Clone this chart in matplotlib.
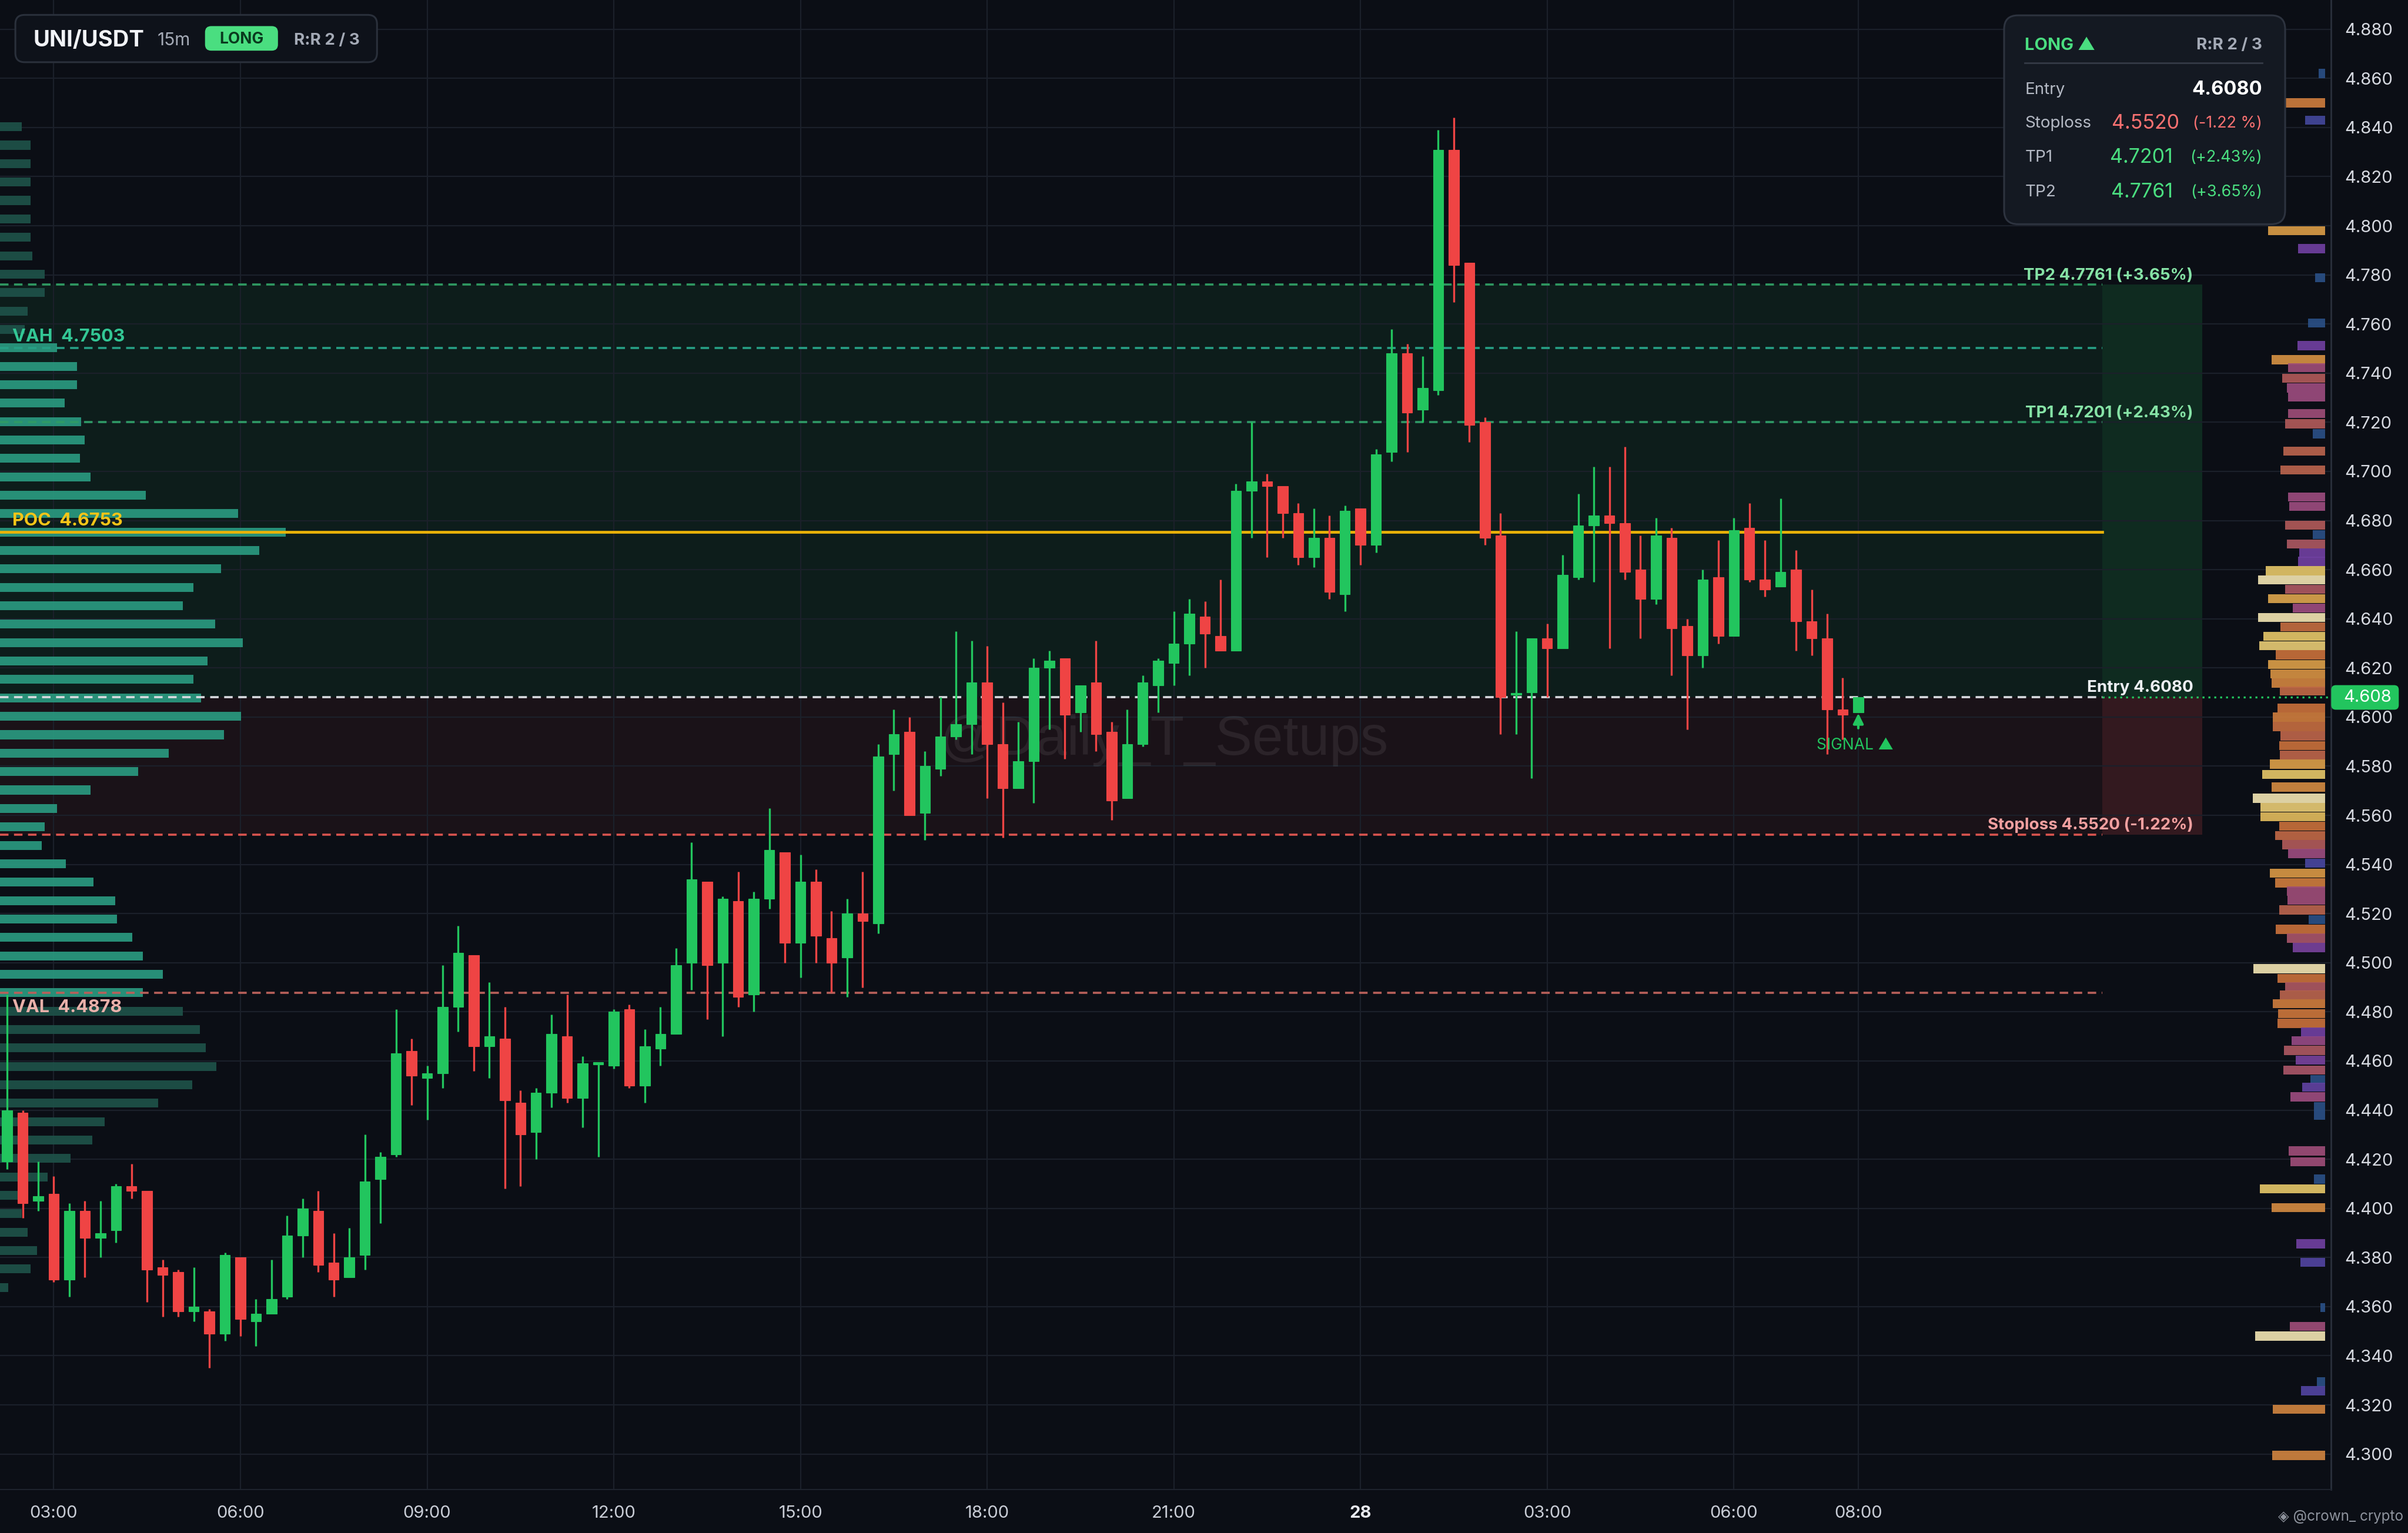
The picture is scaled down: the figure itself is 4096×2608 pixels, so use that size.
import matplotlib
matplotlib.use("Agg")
import matplotlib.pyplot as plt
import matplotlib.transforms as mtransforms
from matplotlib.patches import Rectangle, FancyBboxPatch
from matplotlib.colors import LinearSegmentedColormap
import numpy as np

plt.rcParams['font.family'] = ['Inter', 'DejaVu Sans']

# ---------------- data ----------------
symbol = "UNI/USDT"
timeframe = "15m"
first_candle_offset = -3   # first bar is 02:15, three bars before 03:00

opens = [4.419, 4.439, 4.403, 4.406, 4.371, 4.399, 4.388, 4.391, 4.409, 4.407,
         4.376, 4.374, 4.358, 4.358, 4.349, 4.380, 4.354, 4.357, 4.364, 4.389,
         4.399, 4.378, 4.372, 4.381, 4.412, 4.422, 4.464, 4.453, 4.455, 4.482,
         4.503, 4.466, 4.469, 4.443, 4.431, 4.447, 4.470, 4.445, 4.4585, 4.458,
         4.481, 4.450, 4.465, 4.471, 4.500, 4.533, 4.500, 4.525, 4.487, 4.526,
         4.545, 4.508, 4.533, 4.510, 4.502, 4.520, 4.516, 4.585, 4.594, 4.561,
         4.579, 4.592, 4.597, 4.614, 4.589, 4.571, 4.582, 4.620, 4.624, 4.602,
         4.614, 4.594, 4.567, 4.589, 4.613, 4.622, 4.630, 4.641, 4.633, 4.627,
         4.692, 4.696, 4.694, 4.683, 4.665, 4.673, 4.650, 4.685, 4.670, 4.708,
         4.748, 4.725, 4.733, 4.831, 4.785, 4.720, 4.674, 4.609, 4.610, 4.632,
         4.628, 4.657, 4.678, 4.682, 4.679, 4.660, 4.648, 4.673, 4.637, 4.625,
         4.657, 4.633, 4.677, 4.656, 4.653, 4.660, 4.639, 4.632, 4.603, 4.602]
highs = [4.487, 4.440, 4.419, 4.413, 4.402, 4.403, 4.403, 4.410, 4.418, 4.407,
         4.379, 4.375, 4.376, 4.359, 4.382, 4.380, 4.363, 4.379, 4.397, 4.404,
         4.407, 4.390, 4.392, 4.430, 4.423, 4.481, 4.469, 4.458, 4.499, 4.515,
         4.503, 4.492, 4.482, 4.448, 4.449, 4.479, 4.487, 4.462, 4.459, 4.481,
         4.483, 4.473, 4.482, 4.506, 4.549, 4.533, 4.527, 4.537, 4.529, 4.563,
         4.545, 4.544, 4.538, 4.521, 4.526, 4.537, 4.589, 4.603, 4.600, 4.586,
         4.608, 4.635, 4.631, 4.629, 4.606, 4.598, 4.624, 4.627, 4.624, 4.613,
         4.631, 4.598, 4.603, 4.617, 4.624, 4.643, 4.648, 4.647, 4.656, 4.695,
         4.720, 4.699, 4.694, 4.687, 4.685, 4.682, 4.686, 4.685, 4.709, 4.758,
         4.752, 4.747, 4.839, 4.844, 4.785, 4.722, 4.683, 4.635, 4.632, 4.638,
         4.666, 4.691, 4.702, 4.702, 4.710, 4.674, 4.681, 4.677, 4.640, 4.660,
         4.672, 4.681, 4.687, 4.672, 4.689, 4.668, 4.652, 4.642, 4.616, 4.608]
lows = [4.416, 4.396, 4.399, 4.370, 4.364, 4.372, 4.380, 4.386, 4.404, 4.362,
        4.356, 4.356, 4.354, 4.335, 4.346, 4.348, 4.344, 4.357, 4.363, 4.380,
        4.374, 4.364, 4.372, 4.375, 4.394, 4.421, 4.442, 4.436, 4.449, 4.472,
        4.456, 4.453, 4.408, 4.409, 4.420, 4.441, 4.443, 4.433, 4.421, 4.457,
        4.449, 4.443, 4.458, 4.471, 4.489, 4.477, 4.470, 4.482, 4.480, 4.522,
        4.500, 4.494, 4.500, 4.488, 4.486, 4.490, 4.512, 4.570, 4.560, 4.550,
        4.576, 4.591, 4.585, 4.567, 4.551, 4.571, 4.565, 4.595, 4.583, 4.594,
        4.586, 4.558, 4.567, 4.588, 4.602, 4.613, 4.617, 4.620, 4.627, 4.627,
        4.673, 4.665, 4.673, 4.662, 4.661, 4.648, 4.643, 4.662, 4.667, 4.704,
        4.708, 4.720, 4.731, 4.769, 4.712, 4.670, 4.593, 4.593, 4.575, 4.608,
        4.628, 4.656, 4.655, 4.628, 4.656, 4.632, 4.646, 4.617, 4.595, 4.620,
        4.630, 4.633, 4.655, 4.649, 4.653, 4.627, 4.625, 4.585, 4.591, 4.602]
closes = [4.440, 4.402, 4.405, 4.371, 4.399, 4.388, 4.390, 4.409, 4.407, 4.375,
          4.373, 4.358, 4.360, 4.349, 4.381, 4.355, 4.357, 4.363, 4.389, 4.400,
          4.377, 4.371, 4.380, 4.411, 4.421, 4.463, 4.454, 4.455, 4.482, 4.504,
          4.466, 4.470, 4.444, 4.430, 4.447, 4.471, 4.445, 4.459, 4.459, 4.480,
          4.450, 4.466, 4.471, 4.499, 4.534, 4.499, 4.526, 4.486, 4.526, 4.546,
          4.508, 4.533, 4.511, 4.500, 4.520, 4.517, 4.584, 4.593, 4.560, 4.580,
          4.592, 4.597, 4.614, 4.589, 4.571, 4.582, 4.620, 4.623, 4.601, 4.613,
          4.593, 4.566, 4.589, 4.614, 4.623, 4.630, 4.642, 4.634, 4.627, 4.692,
          4.696, 4.694, 4.683, 4.665, 4.673, 4.651, 4.684, 4.670, 4.707, 4.748,
          4.724, 4.734, 4.831, 4.784, 4.719, 4.673, 4.608, 4.6095, 4.632, 4.628,
          4.658, 4.678, 4.682, 4.679, 4.659, 4.648, 4.674, 4.636, 4.625, 4.656,
          4.633, 4.676, 4.656, 4.652, 4.659, 4.639, 4.632, 4.603, 4.601, 4.608]

entry, stoploss, tp1, tp2 = 4.6080, 4.5520, 4.7201, 4.7761
vah, poc, val = 4.7503, 4.6753, 4.4878
entry_label = "Entry 4.6080"
sl_label = "Stoploss 4.5520 (-1.22%)"
tp1_label = "TP1 4.7201 (+2.43%)"
tp2_label = "TP2 4.7761 (+3.65%)"

# volume profile (left), top bin first
vp_top, vp_step = 4.8403, 0.0075
vp_volume = [14, 20, 20, 20, 20, 20, 20, 21, 29, 29, 18, 16, 37, 50, 50, 42,
             53, 55, 52, 59, 95, 155, 186, 169, 144, 126, 119, 140, 158, 135,
             126, 131, 157, 146, 110, 90, 59, 37, 29, 27, 43, 61, 75, 76, 86,
             93, 106, 93, 119, 130, 134, 141, 125, 103, 68, 60, 46, 31, 14, 14,
             18, 24, 20, 5.5]

# order-book heatmap (right): price, size, intensity 0..1
heat_prices = [4.862, 4.850, 4.843, 4.798, 4.7907, 4.7789, 4.7604, 4.7512, 4.7455, 4.7422,
               4.7379, 4.734, 4.7302, 4.7235, 4.7194, 4.7153, 4.7083, 4.7006, 4.6896, 4.6858,
               4.6781, 4.6743, 4.6705, 4.6667, 4.6634, 4.6596, 4.6558, 4.652, 4.6482, 4.6444,
               4.6405, 4.6367, 4.6329, 4.6291, 4.6253, 4.6214, 4.6176, 4.6138, 4.6106, 4.6037,
               4.600, 4.5961, 4.5923, 4.5884, 4.5846, 4.5808, 4.5766, 4.5715, 4.567, 4.5632,
               4.5594, 4.5556, 4.5518, 4.548, 4.5445, 4.5405, 4.5365, 4.5325, 4.5292, 4.5255,
               4.5215, 4.5176, 4.5136, 4.5100, 4.5062, 4.4976, 4.4936, 4.4903, 4.4869, 4.4833,
               4.4793, 4.4753, 4.4717, 4.4683, 4.4643, 4.4603, 4.4563, 4.4524, 4.4494, 4.4454,
               4.4414, 4.4378, 4.4234, 4.419, 4.4119, 4.4079, 4.4003, 4.3856, 4.378, 4.3596,
               4.352, 4.348, 4.3293, 4.3257, 4.3182, 4.2994]
heat_sizes = [4, 26, 13, 37, 17.5, 6.6, 11, 18, 35, 24,
              28, 25, 24, 24, 26, 8, 27, 29, 24, 23.5,
              26, 8, 25, 17, 17.5, 38.6, 43.7, 26, 37, 21,
              43.7, 29, 40, 42.7, 32, 37, 35.6, 35, 29.6, 31,
              34, 34, 29, 30, 29.6, 36, 41, 34.7, 47, 42,
              42, 30, 32.7, 28, 24, 13, 36, 32.7, 25, 24.5,
              30, 10.6, 32, 25, 21, 46.6, 31, 26, 29.5, 34,
              30.5, 30.8, 15.8, 21.7, 26.6, 19, 27, 9.4, 15, 22.7,
              7.4, 7.4, 23.6, 22.7, 7.4, 42.5, 35, 18.7, 16, 3,
              23, 45.7, 5.5, 15.5, 34, 34.4]
heat_level = [0.0, 0.66, 0.1, 0.75, 0.25, 0.0, 0.0, 0.25, 0.72, 0.4,
              0.5, 0.38, 0.38, 0.4, 0.5, 0.0, 0.55, 0.55, 0.38, 0.38,
              0.5, 0.0, 0.48, 0.25, 0.25, 0.88, 1.0, 0.48, 0.78, 0.38,
              1.0, 0.6, 0.88, 0.9, 0.62, 0.76, 0.72, 0.68, 0.58, 0.62,
              0.66, 0.6, 0.56, 0.62, 0.56, 0.76, 0.88, 0.7, 1.0, 0.9,
              0.85, 0.62, 0.58, 0.5, 0.38, 0.12, 0.74, 0.66, 0.4, 0.4,
              0.55, 0.0, 0.62, 0.45, 0.27, 1.0, 0.62, 0.48, 0.55, 0.66,
              0.64, 0.62, 0.25, 0.36, 0.48, 0.27, 0.46, 0.0, 0.2, 0.38,
              0.0, 0.0, 0.4, 0.4, 0.0, 0.88, 0.7, 0.25, 0.15, 0.0,
              0.4, 1.0, 0.0, 0.15, 0.68, 0.68]

xtick_pos = [0, 12, 24, 36, 48, 60, 72, 84, 96, 108, 116]
xtick_labels = ["03:00", "06:00", "09:00", "12:00", "15:00", "18:00", "21:00",
                "28", "03:00", "06:00", "08:00"]
ytick_vals = [4.30 + 0.02 * i for i in range(30)]

# ---------------- style ----------------
BG = "#0b0e15"
UP = "#22c55e"
DN = "#ef4444"
GRID = "#1b202a"

W_PX, H_PX = 1568.0, 998.4      # reference frame in "screen" px
AX_R, AX_B = 1518.0, 970.0
S = 40.96 / W_PX                 # inches per screen px
FIG_H = 26.08

X0, X1 = -3.455, 146.4
Y0, Y1 = 4.2856, 4.8919
PXK = AX_R / (X1 - X0)


def kx(px):
    return X0 + px / PXK


def py(p):
    return (Y1 - p) / (Y1 - Y0) * AX_B


def fin(x, y):
    return x * S, FIG_H - y * S


fig = plt.figure(figsize=(40.96, 26.08), dpi=100, facecolor=BG)
ax = fig.add_axes([0, 1 - AX_B / H_PX, AX_R / W_PX, AX_B / H_PX])
ax.set_facecolor(BG)
ax.set_xlim(X0, X1)
ax.set_ylim(Y0, Y1)

# grid & ticks
ax.set_yticks(ytick_vals)
ax.set_yticklabels([f"{v:.3f}" for v in ytick_vals])
ax.set_xticks(xtick_pos)
ax.set_xticklabels(xtick_labels)
ax.set_axisbelow(True)
ax.grid(True, color=GRID, lw=1.6)
ax.tick_params(axis='y', left=False, right=False, labelleft=False, labelright=True,
               pad=13, labelsize=21, labelcolor="#d6d9e0")
ax.tick_params(axis='x', bottom=False, labelbottom=True, pad=16, labelsize=21,
               labelcolor="#c9cdd6")
for t in ax.get_xticklabels():
    if t.get_text() == "28":
        t.set_fontweight("bold")
        t.set_color("#e8eaef")
for side in ["top", "left"]:
    ax.spines[side].set_visible(False)
ax.spines["right"].set_color("#2a303c")
ax.spines["right"].set_linewidth(2)
ax.spines["bottom"].set_color("#1e232d")
ax.spines["bottom"].set_linewidth(1.5)

line_end = kx(1369)
box_end = kx(1434)

# zones
ax.add_patch(Rectangle((X0, entry), line_end - X0, tp2 - entry, fc="#0d1d1b", ec="none", zorder=0.3))
ax.add_patch(Rectangle((X0, stoploss), line_end - X0, entry - stoploss, fc="#1a1218", ec="none", zorder=0.3))
ax.add_patch(Rectangle((line_end, entry), box_end - line_end, tp2 - entry, fc="#0f2b20", ec="none", zorder=0.3))
ax.add_patch(Rectangle((line_end, stoploss), box_end - line_end, entry - stoploss, fc="#33191f", ec="none", zorder=0.3))

# watermark
ax.text(kx(758), 4.5906, "@Daily_T_Setups", fontsize=68, color="#ffffff", alpha=0.075,
        ha="center", va="center", family=["Liberation Sans", "DejaVu Sans"], zorder=2.5)

# volume profile
vp_prices = np.array([vp_top - vp_step * i for i in range(len(vp_volume))])
vp_w = np.array(vp_volume) / PXK
vp_cols = ["#2a9a80" if (val - 0.002) <= p <= (vah + 0.002) else "#1e5249" for p in vp_prices]
ax.barh(vp_prices, vp_w, left=X0, height=0.0036, color=vp_cols, alpha=0.92, zorder=2)

# heatmap
cmap = LinearSegmentedColormap.from_list("ob", ["#2a4f85", "#4a45a0", "#7040a0", "#9a4a80",
                                                "#b05a5a", "#c8703a", "#d89a45", "#e2c262", "#efe2b0"])
hx_right = kx(1514)
hw = np.array(heat_sizes) / PXK
ax.barh(heat_prices, hw, left=hx_right - hw, height=0.0037,
        color=[cmap(v) for v in heat_level], alpha=0.92, zorder=2)

# level lines
dash = (0, (4, 2.6))
ax.plot([X0, line_end], [tp2, tp2], color="#2f9a62", ls=dash, lw=2.6, zorder=3)
ax.plot([X0, line_end], [vah, vah], color="#27a085", ls=dash, lw=2.6, zorder=3)
ax.plot([X0, line_end], [tp1, tp1], color="#2f9a66", ls=dash, lw=2.6, zorder=3)
ax.plot([X0, line_end], [poc, poc], color="#eab308", ls="-", lw=3.4, zorder=3)
ax.plot([X0, line_end], [entry, entry], color="#d9dbe0", ls=dash, lw=2.6, zorder=3)
ax.plot([line_end, X1], [entry, entry], color=UP, ls=(0, (1, 2)), lw=2.4, zorder=3)
ax.plot([X0, line_end], [stoploss, stoploss], color="#d9544f", ls=dash, lw=2.6, zorder=3)
ax.plot([X0, line_end], [val, val], color="#b8605a", ls=dash, lw=2.6, zorder=3)

# candles
xs = np.arange(len(opens)) + first_candle_offset
o, h, l, c = (np.array(a) for a in (opens, highs, lows, closes))
cols = np.where(c >= o, UP, DN)
ax.vlines(xs, l, h, colors=cols, lw=2.4, zorder=5)
ax.bar(xs, np.maximum(np.abs(c - o), 0.0009), bottom=np.minimum(o, c), width=0.66,
       color=cols, edgecolor=cols, lw=0.8, zorder=6)

# level labels
lab_r = kx(1428)
lab_l = kx(8)
ax.text(lab_r, tp2 + 0.0005, tp2_label, color="#86e3a6", fontsize=20, fontweight="bold",
        ha="right", va="bottom", zorder=7)
ax.text(lab_r, tp1 + 0.0005, tp1_label, color="#86e3a6", fontsize=20, fontweight="bold",
        ha="right", va="bottom", zorder=7)
ax.text(lab_r, entry + 0.0008, entry_label, color="#eceef2", fontsize=20, fontweight="bold",
        ha="right", va="bottom", zorder=7)
ax.text(lab_r, stoploss + 0.0008, sl_label, color="#f2a0a0", fontsize=20, fontweight="bold",
        ha="right", va="bottom", zorder=7)
ax.text(lab_l, vah + 0.0012, "VAH  4.7503", color="#33c795", fontsize=22, fontweight="bold",
        ha="left", va="bottom", zorder=7)
ax.text(lab_l, poc + 0.0012, "POC  4.6753", color="#f5c518", fontsize=22, fontweight="bold",
        ha="left", va="bottom", zorder=7)
ax.text(lab_l, val - 0.0028, "VAL  4.4878", color="#e9b0aa", fontsize=22, fontweight="bold",
        ha="left", va="top", zorder=7)

# signal marker
ax.annotate("", xy=(xs[-1], 4.6022), xytext=(xs[-1], 4.5948),
            arrowprops=dict(arrowstyle="-|>", color=UP, lw=3, mutation_scale=26), zorder=7)
ax.text(kx(1208), 4.5885, "SIGNAL ▲", color=UP, fontsize=19, ha="center", va="center", zorder=7)

# price tag on axis
tx, ty = fin(1518, py(entry) + 8)
fig.add_artist(FancyBboxPatch((tx, ty), 44 * S, 16 * S, boxstyle=f"round,pad=0,rounding_size={3*S}",
                              transform=fig.dpi_scale_trans, fc=UP, ec="none", zorder=5))
x_, y_ = fin(1526, py(entry))
fig.text(x_, y_, "4.608", transform=fig.dpi_scale_trans, color="white", fontsize=21,
         ha="left", va="center", zorder=6)

# top-left info box
bx, by = fin(10, 40.5)
fig.add_artist(FancyBboxPatch((bx, by), 235.5 * S, 30.8 * S, boxstyle=f"round,pad=0,rounding_size={6*S}",
                              transform=fig.dpi_scale_trans, fc="#0e121a", ec="#2a303b", lw=2.2, zorder=5))
x_, y_ = fin(21.5, 26.5)
fig.text(x_, y_, symbol, transform=fig.dpi_scale_trans, color="#f1f3f7", fontsize=27.5,
         fontweight="bold", ha="left", va="center", zorder=6)
x_, y_ = fin(102.5, 26.5)
fig.text(x_, y_, timeframe, transform=fig.dpi_scale_trans, color="#a4aab6", fontsize=21.5,
         ha="left", va="center", zorder=6)
bx, by = fin(133.5, 33)
fig.add_artist(FancyBboxPatch((bx, by), 47.5 * S, 16 * S, boxstyle=f"round,pad=0,rounding_size={4*S}",
                              transform=fig.dpi_scale_trans, fc="#4ade80", ec="none", zorder=5))
x_, y_ = fin(157.3, 25.5)
fig.text(x_, y_, "LONG", transform=fig.dpi_scale_trans, color="#0a3a1e", fontsize=19,
         fontweight="bold", ha="center", va="center", zorder=6)
x_, y_ = fin(191.5, 26.5)
fig.text(x_, y_, "R:R 2 / 3", transform=fig.dpi_scale_trans, color="#a4aab6", fontsize=20,
         fontweight="bold", ha="left", va="center", zorder=6)

# top-right trade panel
bx, by = fin(1305, 146)
fig.add_artist(FancyBboxPatch((bx, by), 183 * S, 136 * S, boxstyle=f"round,pad=0,rounding_size={9*S}",
                              transform=fig.dpi_scale_trans, fc="#141922", ec="#2d333f", lw=2.2, zorder=5))
x_, y_ = fin(1318.5, 29.5)
fig.text(x_, y_, "LONG ▲", transform=fig.dpi_scale_trans, color="#4ade80", fontsize=21,
         fontweight="bold", ha="left", va="center", zorder=6)
x_, y_ = fin(1473, 29.5)
fig.text(x_, y_, "R:R 2 / 3", transform=fig.dpi_scale_trans, color="#a4aab6", fontsize=20,
         fontweight="bold", ha="right", va="center", zorder=6)
xa, ya = fin(1318.5, 41)
xb, _ = fin(1473, 41)
fig.add_artist(plt.Line2D([xa, xb], [ya, ya], transform=fig.dpi_scale_trans, color="#343a46", lw=2, zorder=6))

rows = [("Entry", "4.6080", "#ffffff", "", "#ffffff", 58.5),
        ("Stoploss", "4.5520", "#f87171", "(-1.22 %)", "#f87171", 80.5),
        ("TP1", "4.7201", "#4ade80", "(+2.43%)", "#4ade80", 102.5),
        ("TP2", "4.7761", "#4ade80", "(+3.65%)", "#4ade80", 125)]
for name, v, vc, pct, pc, yy in rows:
    x_, y_ = fin(1318.5, yy)
    fig.text(x_, y_, name, transform=fig.dpi_scale_trans, color="#b4b9c4", fontsize=20,
             ha="left", va="center", zorder=6)
    if pct:
        x_, y_ = fin(1419 if name == "Stoploss" else 1415, yy)
        fig.text(x_, y_, v, transform=fig.dpi_scale_trans, color=vc, fontsize=24.5,
                 ha="right", va="center", zorder=6)
        x_, y_ = fin(1473, yy)
        fig.text(x_, y_, pct, transform=fig.dpi_scale_trans, color=pc, fontsize=19.5,
                 ha="right", va="center", zorder=6)
    else:
        x_, y_ = fin(1473, yy)
        fig.text(x_, y_, v, transform=fig.dpi_scale_trans, color=vc, fontsize=23.5,
                 fontweight="bold", ha="right", va="center", zorder=6)

# bottom-right credit
x_, y_ = fin(1565, 988)
fig.text(x_, y_, "◈ @crown_ crypto", transform=fig.dpi_scale_trans, color="#8d929c", fontsize=17.5,
         ha="right", va="center", zorder=6)

fig.savefig("out.png", dpi=100, facecolor=BG)
